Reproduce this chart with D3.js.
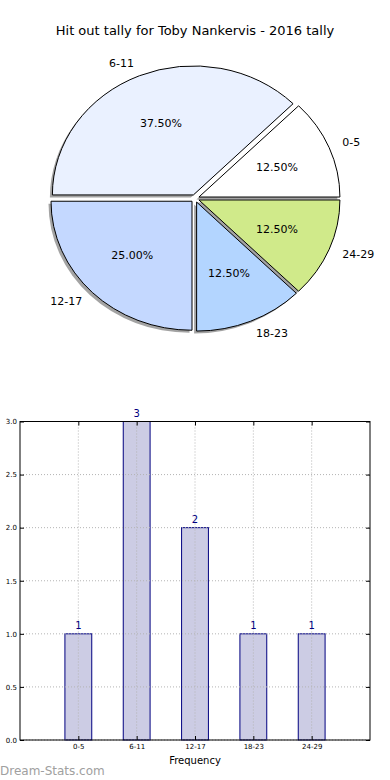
<!DOCTYPE html>
<html>
<head>
<meta charset="utf-8">
<script src="https://cdn.jsdelivr.net/npm/d3@7"></script>
<style>
  body { margin: 0; background: #fff; }
  svg { display: block; font-family: "DejaVu Sans", sans-serif; }
</style>
</head>
<body>
<div id="chart"></div>
<script>
const categories = ["0-5", "6-11", "12-17", "18-23", "24-29"];
const counts = [1, 3, 2, 1, 1];
const sliceColors = ["#ffffff", "#eaf1ff", "#c4d8ff", "#b3d5ff", "#d0ea8a"];
const yTicks = [0, 0.5, 1, 1.5, 2, 2.5, 3];

const width = 390, height = 780;

const svg = d3.select("#chart")
  .append("svg")
    .attr("width", width)
    .attr("height", height);

svg.append("text")
  .attr("x", 195)
  .attr("y", 35)
  .attr("text-anchor", "middle")
  .attr("font-size", 13)
  .text("Hit out tally for Toby Nankervis - 2016 tally");

// ---- pie (elliptical, like matplotlib without equal aspect) ----
const cx = 195, cy = 198.5, rx = 141, ry = 129;
const explode = 0.03;
const total = d3.sum(counts);

// matplotlib goes counter-clockwise from 3 o'clock
const pie = d3.pie()
  .sort(null)
  .startAngle(Math.PI / 2)
  .endAngle(Math.PI / 2 - 2 * Math.PI);

const arcs = pie(counts);
const arc = d3.arc().innerRadius(0).outerRadius(100);

// angle in math convention (ccw from east)
const mid = d => Math.PI / 2 - (d.startAngle + d.endAngle) / 2;

const gPie = svg.append("g");

arcs.forEach((d, i) => {
  const m = mid(d);
  const ox = cx + explode * rx * Math.cos(m);
  const oy = cy - explode * ry * Math.sin(m);

  // shadow
  gPie.append("path")
    .attr("d", arc(d))
    .attr("transform", `translate(${ox - 2.5}, ${oy + 2.5}) scale(${rx / 100}, ${ry / 100})`)
    .attr("fill", "#666")
    .attr("fill-opacity", 0.6);
});

arcs.forEach((d, i) => {
  const m = mid(d);
  const ox = cx + explode * rx * Math.cos(m);
  const oy = cy - explode * ry * Math.sin(m);

  gPie.append("path")
    .attr("d", arc(d))
    .attr("transform", `translate(${ox}, ${oy}) scale(${rx / 100}, ${ry / 100})`)
    .attr("fill", sliceColors[i])
    .attr("stroke", "#000")
    .attr("stroke-width", 1)
    .attr("vector-effect", "non-scaling-stroke");

  const c = Math.cos(m), s = Math.sin(m);

  gPie.append("text")
    .attr("x", ox + 0.6 * rx * c)
    .attr("y", oy - 0.6 * ry * s)
    .attr("text-anchor", "middle")
    .attr("dominant-baseline", "central")
    .attr("font-size", 11)
    .text((counts[i] / total * 100).toFixed(2) + "%");

  gPie.append("text")
    .attr("x", ox + 1.1 * rx * c)
    .attr("y", oy - 1.1 * ry * s)
    .attr("text-anchor", c > 0 ? "start" : "end")
    .attr("dominant-baseline", "central")
    .attr("font-size", 11)
    .text(categories[i]);
});

// ---- bar chart ----
const plot = { left: 20, right: 370, top: 421.5, bottom: 740 };

const xScale = d3.scaleLinear().domain([-1, 5]).range([plot.left, plot.right]);
const yScale = d3.scaleLinear().domain([0, 3]).range([plot.bottom, plot.top]);
const barW = xScale(0.46) - xScale(0);

const gBar = svg.append("g");

gBar.selectAll(".bar")
  .data(counts)
  .join("rect")
    .attr("class", "bar")
    .attr("x", (d, i) => xScale(i) - barW / 2)
    .attr("y", d => yScale(d))
    .attr("width", barW)
    .attr("height", d => yScale(0) - yScale(d))
    .attr("fill", "#ccccE4")
    .attr("stroke", "#000080")
    .attr("stroke-width", 1);

// grid
gBar.selectAll(".vgrid")
  .data(categories)
  .join("line")
    .attr("class", "vgrid")
    .attr("x1", (d, i) => xScale(i))
    .attr("x2", (d, i) => xScale(i))
    .attr("y1", plot.top)
    .attr("y2", plot.bottom)
    .attr("stroke", "#b4b4b4")
    .attr("stroke-width", 1)
    .attr("stroke-dasharray", "1,2");

gBar.selectAll(".hgrid")
  .data(yTicks)
  .join("line")
    .attr("class", "hgrid")
    .attr("x1", plot.left)
    .attr("x2", plot.right)
    .attr("y1", d => yScale(d))
    .attr("y2", d => yScale(d))
    .attr("stroke", "#b4b4b4")
    .attr("stroke-width", 1)
    .attr("stroke-dasharray", "1,2");

// value labels
gBar.selectAll(".val")
  .data(counts)
  .join("text")
    .attr("class", "val")
    .attr("x", (d, i) => xScale(i))
    .attr("y", d => yScale(d) - 5)
    .attr("text-anchor", "middle")
    .attr("font-size", 10)
    .attr("fill", "#000080")
    .text(d => d);

// axes
const leftAxis = d3.axisLeft(yScale)
  .tickValues(yTicks)
  .tickFormat(d3.format(".1f"))
  .tickSizeInner(-4)
  .tickSizeOuter(0)
  .tickPadding(3);
const gy = gBar.append("g")
  .attr("transform", `translate(${plot.left}, 0)`)
  .call(leftAxis);
gy.selectAll("text").attr("font-size", 7).attr("font-family", "DejaVu Sans");
gy.select(".domain").remove();

const rightAxis = d3.axisRight(yScale)
  .tickValues(yTicks)
  .tickFormat("")
  .tickSizeInner(-4)
  .tickSizeOuter(0);
const gyr = gBar.append("g")
  .attr("transform", `translate(${plot.right}, 0)`)
  .call(rightAxis);
gyr.select(".domain").remove();

const bottomAxis = d3.axisBottom(xScale)
  .tickValues(d3.range(categories.length))
  .tickFormat(i => categories[i])
  .tickSizeInner(-4)
  .tickSizeOuter(0)
  .tickPadding(4);
const gx = gBar.append("g")
  .attr("transform", `translate(0, ${plot.bottom})`)
  .call(bottomAxis);
gx.selectAll("text").attr("font-size", 7).attr("font-family", "DejaVu Sans");
gx.select(".domain").remove();

const topAxis = d3.axisTop(xScale)
  .tickValues(d3.range(categories.length))
  .tickFormat("")
  .tickSizeInner(-4)
  .tickSizeOuter(0);
const gxt = gBar.append("g")
  .attr("transform", `translate(0, ${plot.top})`)
  .call(topAxis);
gxt.select(".domain").remove();

svg.selectAll(".tick line").attr("stroke", "#000");

gBar.append("rect")
  .attr("x", plot.left)
  .attr("y", plot.top)
  .attr("width", plot.right - plot.left)
  .attr("height", plot.bottom - plot.top)
  .attr("fill", "none")
  .attr("stroke", "#000")
  .attr("stroke-width", 1);

gBar.append("text")
  .attr("x", (plot.left + plot.right) / 2)
  .attr("y", 764)
  .attr("text-anchor", "middle")
  .attr("font-size", 10)
  .text("Frequency");

svg.append("text")
  .attr("x", 0)
  .attr("y", 775)
  .attr("font-size", 12)
  .attr("fill", "#a0a0a0")
  .text("Dream-Stats.com");
</script>
</body>
</html>
